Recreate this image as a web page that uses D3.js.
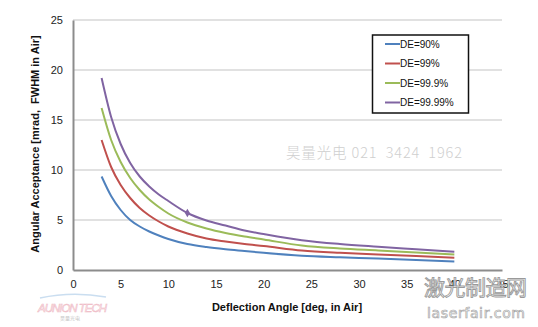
<!DOCTYPE html>
<html>
<head>
<meta charset="utf-8">
<script src="https://cdn.jsdelivr.net/npm/d3@7"></script>
<style>
  html, body { margin: 0; padding: 0; background: #fff; }
  svg { display: block; font-family: "Liberation Sans", Arial, sans-serif; }
</style>
</head>
<body>
<svg id="chart" width="538" height="327"></svg>
<script>
// Deflection angle (deg) at which each curve is sampled
const angles = [3, 4, 5, 6, 7, 8, 9, 10, 12, 14, 16, 18, 20, 24, 28, 32, 36, 40];

// Angular acceptance (mrad FWHM) per diffraction efficiency
const de90   = [9.35, 7.4, 6.0, 5.0, 4.35, 3.85, 3.45, 3.1, 2.6, 2.3, 2.08, 1.9, 1.72, 1.42, 1.27, 1.15, 1.0, 0.85];
const de99   = [13.0, 10.3, 8.5, 7.2, 6.2, 5.45, 4.85, 4.35, 3.65, 3.15, 2.85, 2.6, 2.4, 1.95, 1.72, 1.56, 1.4, 1.22];
const de999  = [16.2, 13.0, 10.8, 9.2, 8.0, 7.05, 6.3, 5.65, 4.75, 4.15, 3.7, 3.35, 3.05, 2.45, 2.15, 1.95, 1.75, 1.55];
const de9999 = [19.2, 15.3, 12.6, 10.7, 9.35, 8.35, 7.55, 6.9, 5.7, 4.95, 4.45, 3.95, 3.6, 2.98, 2.6, 2.33, 2.08, 1.83];

const seriesNames  = ["DE=90%", "DE=99%", "DE=99.9%", "DE=99.99%"];
const seriesColors = ["#4f81bd", "#c0504d", "#9bbb59", "#8064a2"];

const xTicks = [0, 5, 10, 15, 20, 25, 30, 35, 40, 45];
const yTicks = [0, 5, 10, 15, 20, 25];

// Single marked point on the DE=99.99% curve
const markAngle = 12;
const markValue = 5.7;

const svg = d3.select("#chart");
const plot = { left: 73, right: 502, top: 20, bottom: 270 };

const x = d3.scaleLinear().domain([0, 45]).range([plot.left, plot.right]);
const y = d3.scaleLinear().domain([0, 25]).range([plot.bottom, plot.top]);

// Horizontal gridlines
svg.append("g")
  .selectAll("line")
  .data(yTicks.filter(d => d > 0))
  .join("line")
  .attr("x1", plot.left).attr("x2", plot.right)
  .attr("y1", d => y(d)).attr("y2", d => y(d))
  .attr("stroke", "#c4c4c4").attr("stroke-width", 1.2);

// Axes (no tick marks, just labels)
const xAxis = svg.append("g")
  .attr("transform", `translate(0,${plot.bottom})`)
  .call(d3.axisBottom(x).tickValues(xTicks).tickSize(0).tickPadding(10));
xAxis.select(".domain").attr("stroke", "#8c8c8c").attr("stroke-width", 2);
xAxis.selectAll("text").attr("font-size", 11).attr("fill", "#222")
  .attr("font-family", "Liberation Sans, Arial, sans-serif");

const yAxis = svg.append("g")
  .attr("transform", `translate(${plot.left},0)`)
  .call(d3.axisLeft(y).tickValues(yTicks).tickSize(0).tickPadding(10));
yAxis.select(".domain").attr("stroke", "#8c8c8c").attr("stroke-width", 2);
yAxis.selectAll("text").attr("font-size", 11).attr("fill", "#222")
  .attr("font-family", "Liberation Sans, Arial, sans-serif");

// Axis titles
svg.append("text")
  .attr("x", 287).attr("y", 311)
  .attr("text-anchor", "middle")
  .attr("font-size", 11).attr("font-weight", "bold").attr("fill", "#111")
  .text("Deflection Angle [deg, in Air]");

svg.append("text")
  .attr("transform", "translate(39,144) rotate(-90)")
  .attr("text-anchor", "middle")
  .attr("font-size", 11).attr("font-weight", "bold").attr("fill", "#111")
  .style("white-space", "pre")
  .text("Angular Acceptance [mrad,  FWHM in Air]");

// Curves
const allSeries = [de90, de99, de999, de9999];
const line = d3.line()
  .x((d, i) => x(angles[i]))
  .y(d => y(d))
  .curve(d3.curveMonotoneX);

svg.append("g")
  .selectAll("path")
  .data(allSeries)
  .join("path")
  .attr("d", d => line(d))
  .attr("fill", "none")
  .attr("stroke", (d, i) => seriesColors[i])
  .attr("stroke-width", 2);

svg.append("path")
  .attr("d", d3.symbol(d3.symbolDiamond, 22)())
  .attr("transform", `translate(${x(markAngle)},${y(markValue)})`)
  .attr("fill", seriesColors[3]);

// Legend
const legend = svg.append("g");
legend.append("rect")
  .attr("x", 372.5).attr("y", 35).attr("width", 96).attr("height", 78)
  .attr("fill", "#fff").attr("stroke", "#111").attr("stroke-width", 1.5);
const rows = legend.selectAll("g.row")
  .data(seriesNames)
  .join("g")
  .attr("class", "row")
  .attr("transform", (d, i) => `translate(0,${44 + i * 19.5})`);
rows.append("line")
  .attr("x1", 385).attr("x2", 400)
  .attr("stroke", (d, i) => seriesColors[i]).attr("stroke-width", 2);
rows.append("text")
  .attr("x", 400).attr("y", 3.5)
  .attr("font-size", 10).attr("fill", "#111")
  .text(d => d);

// Watermarks
svg.append("text")
  .attr("x", 286).attr("y", 158)
  .attr("font-family", "Noto Sans CJK SC, sans-serif")
  .attr("font-size", 14.5).attr("font-weight", 300).attr("fill", "#cfcfcf")
  .attr("textLength", 176).attr("lengthAdjust", "spacing")
  .style("white-space", "pre")
  .text("昊量光电 021  3424  1962");

svg.append("text")
  .attr("x", 424).attr("y", 295)
  .attr("font-family", "Noto Sans CJK SC, sans-serif")
  .attr("font-size", 21)
  .attr("textLength", 103).attr("lengthAdjust", "spacing")
  .attr("fill", "#fff").attr("fill-opacity", 0.85)
  .attr("stroke", "#9a9a9a").attr("stroke-width", 0.9)
  .text("激光制造网");

svg.append("text")
  .attr("x", 427).attr("y", 318)
  .attr("font-family", "DejaVu Sans, sans-serif")
  .attr("font-size", 14)
  .attr("textLength", 98).attr("lengthAdjust", "spacing")
  .attr("fill", "#fff")
  .attr("stroke", "#a8a8a8").attr("stroke-width", 0.7)
  .text("laserfair.com");

const logo = svg.append("g").attr("opacity", 0.75);
logo.append("path")
  .attr("d", "M40,298 Q72,291 106,297")
  .attr("fill", "none").attr("stroke", "#b9d3ec").attr("stroke-width", 1.5);
logo.append("text")
  .attr("x", 38).attr("y", 312)
  .attr("font-size", 11.5).attr("font-style", "italic")
  .attr("textLength", 69).attr("lengthAdjust", "spacing")
  .attr("fill", "#fde6ea").attr("stroke", "#e8a0ae").attr("stroke-width", 0.5)
  .text("AUNION TECH");
logo.append("text")
  .attr("x", 70).attr("y", 320)
  .attr("text-anchor", "middle")
  .attr("font-family", "Noto Sans CJK SC, sans-serif")
  .attr("font-size", 5).attr("fill", "#b0b0b0")
  .text("昊量光电");
</script>
</body>
</html>
